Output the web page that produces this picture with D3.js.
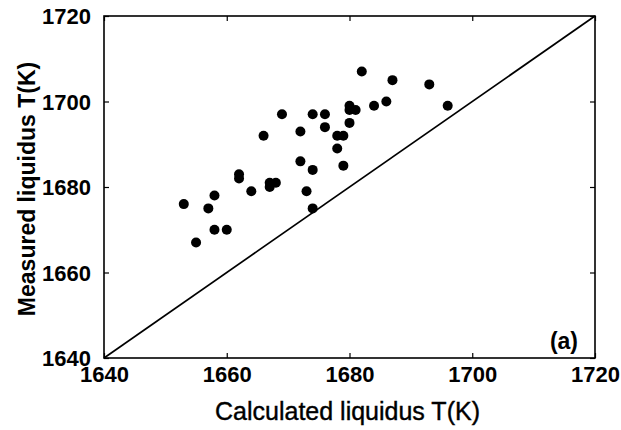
<!DOCTYPE html>
<html>
<head>
<meta charset="utf-8">
<script src="https://cdn.jsdelivr.net/npm/d3@7"></script>
<style>
body { margin: 0; background: #fff; }
svg { display: block; font-family: "Liberation Sans", Arial, sans-serif; }
</style>
</head>
<body>
<svg id="plot"></svg>
<script>
const WIDTH = 621;
const HEIGHT = 430;

// calculated vs measured liquidus temperature (K)
const calcT = [1653, 1655, 1657, 1658, 1658, 1660, 1662, 1662, 1664, 1666,
	1667, 1667, 1668, 1669, 1672, 1672, 1673, 1674, 1674, 1674,
	1676, 1676, 1678, 1678, 1679, 1679, 1680, 1680, 1680, 1681,
	1682, 1684, 1686, 1687, 1693, 1696];
const measT = [1676, 1667, 1675, 1678, 1670, 1670, 1683, 1682, 1679, 1692,
	1681, 1680, 1681, 1697, 1693, 1686, 1679, 1697, 1684, 1675,
	1697, 1694, 1692, 1689, 1692, 1685, 1699, 1698, 1695, 1698,
	1707, 1699, 1700, 1705, 1704, 1699];

const xTicks = [1640, 1660, 1680, 1700, 1720];
const yTicks = [1640, 1660, 1680, 1700, 1720];
const DOMAIN = [1640, 1720];

const margin = { left: 104, right: 26, top: 16, bottom: 72 };
const innerW = WIDTH - margin.left - margin.right;
const innerH = HEIGHT - margin.top - margin.bottom;

const svg = d3.select("#plot").attr("width", WIDTH).attr("height", HEIGHT);

const x = d3.scaleLinear(DOMAIN, [margin.left, margin.left + innerW]);
const y = d3.scaleLinear(DOMAIN, [margin.top + innerH, margin.top]);

// inward ticks on all four sides
const axes = [
	d3.axisBottom(x).tickValues(xTicks).tickSize(-5).tickFormat(d3.format("d")),
	d3.axisTop(x).tickValues(xTicks).tickSize(-5).tickFormat(""),
	d3.axisLeft(y).tickValues(yTicks).tickSize(-5).tickFormat(d3.format("d")),
	d3.axisRight(y).tickValues(yTicks).tickSize(-5).tickFormat(""),
];
const shifts = [
	[0, y(DOMAIN[0])], [0, y(DOMAIN[1])], [x(DOMAIN[0]), 0], [x(DOMAIN[1]), 0],
];
axes.forEach((ax, i) => {
	const g = svg.append("g")
		.attr("transform", `translate(${shifts[i][0]},${shifts[i][1]})`)
		.call(ax);
	g.select(".domain").remove();
	g.selectAll(".tick line").attr("stroke", "#000").attr("stroke-width", 1.2);
	g.selectAll(".tick text")
		.attr("fill", "#000")
		.attr("font-size", 22)
		.attr("font-weight", "bold");
	if (i === 0) g.selectAll(".tick text").attr("y", 8).attr("dy", "0.71em");
	if (i === 2) g.selectAll(".tick text").attr("x", -13).attr("dy", "0.36em");
});

// frame
svg.append("rect")
	.attr("x", x(DOMAIN[0]))
	.attr("y", y(DOMAIN[1]))
	.attr("width", innerW)
	.attr("height", innerH)
	.attr("fill", "none")
	.attr("stroke", "#000")
	.attr("stroke-width", 1.6);

// y = x reference line
svg.append("line")
	.attr("x1", x(DOMAIN[0]))
	.attr("y1", y(DOMAIN[0]))
	.attr("x2", x(DOMAIN[1]))
	.attr("y2", y(DOMAIN[1]))
	.attr("stroke", "#000")
	.attr("stroke-width", 1.7);

svg.append("g")
	.selectAll("circle")
	.data(calcT.map((c, i) => [c, measT[i]]))
	.join("circle")
	.attr("cx", d => x(d[0]))
	.attr("cy", d => y(d[1]))
	.attr("r", 5)
	.attr("fill", "#000");

svg.append("text")
	.attr("x", x(DOMAIN[1]) - 17)
	.attr("y", y(DOMAIN[0]) - 9)
	.attr("text-anchor", "end")
	.attr("font-size", 23)
	.attr("font-weight", "bold")
	.text("(a)");

svg.append("text")
	.attr("x", (x(DOMAIN[0]) + x(DOMAIN[1])) / 2 - 2)
	.attr("y", 420)
	.attr("text-anchor", "middle")
	.attr("font-size", 25)
	.attr("stroke", "#000")
	.attr("stroke-width", 0.4)
	.text("Calculated liquidus T(K)");

svg.append("text")
	.attr("transform", `translate(35,${(y(DOMAIN[0]) + y(DOMAIN[1])) / 2 + 2}) rotate(-90)`)
	.attr("text-anchor", "middle")
	.attr("font-size", 23)
	.attr("font-weight", "bold")
	.text("Measured liquidus T(K)");
</script>
</body>
</html>
